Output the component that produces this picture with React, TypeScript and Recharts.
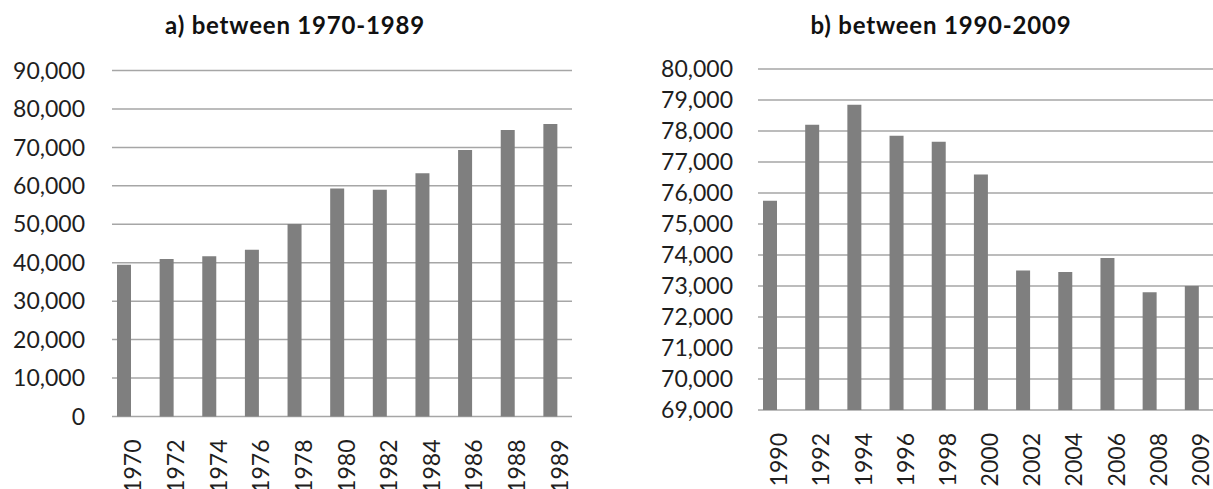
import { BarChart, Bar, XAxis, YAxis, CartesianGrid } from "recharts"

// panel a) 1970-1989
const yearsA = ["1970", "1972", "1974", "1976", "1978", "1980", "1982", "1984", "1986", "1988", "1989"]
const valuesA = [39500, 41000, 41700, 43400, 50100, 59300, 59000, 63300, 69300, 74500, 76100]
const ticksA = [0, 10000, 20000, 30000, 40000, 50000, 60000, 70000, 80000, 90000]

// panel b) 1990-2009
const yearsB = ["1990", "1992", "1994", "1996", "1998", "2000", "2002", "2004", "2006", "2008", "2009"]
const valuesB = [75750, 78200, 78850, 77850, 77650, 76600, 73500, 73450, 73900, 72800, 73000]
const ticksB = [69000, 70000, 71000, 72000, 73000, 74000, 75000, 76000, 77000, 78000, 79000, 80000]

const titleA = "a) between 1970-1989"
const titleB = "b) between 1990-2009"

const FONT = "Lato, 'Open Sans', sans-serif"
const TEXT = "#1e1e1e"
const BAR = "#7f7f7f"
const GRID = "#a6a6a6"

const dataA = yearsA.map((year, i) => ({ year, value: valuesA[i] }))
const dataB = yearsB.map((year, i) => ({ year, value: valuesB[i] }))

const fmt = (v: number) => v.toLocaleString("en-US")

function YearTick(props: any) {
  const { x, y, payload } = props
  const tx = x + 9
  return (
    <text
      x={tx}
      y={y}
      transform={`rotate(-90, ${tx}, ${y})`}
      textAnchor="end"
      dy="0.35em"
      fill={TEXT}
      fontSize={23}
      fontFamily={FONT}
    >
      {payload.value}
    </text>
  )
}

// grid lines start a little right of the plot edge, as in the original
function gridLine(props: any) {
  const { x1, x2, y1, y2, key } = props
  return <line key={key} x1={x1 + 9} x2={x2} y1={y1} y2={y2} stroke={GRID} strokeWidth={1.5} />
}

type PanelProps = {
  data: { year: string; value: number }[]
  ticks: number[]
  width: number
  yWidth: number
  top: number
  xHeight: number
  tickGap: number
  right: number
}

function Panel({ data, ticks, width, yWidth, top, xHeight, tickGap, right }: PanelProps) {
  return (
    <BarChart
      width={width}
      height={489}
      data={data}
      margin={{ top, right, bottom: 0, left: 0 }}
      barCategoryGap={0}
    >
      <CartesianGrid vertical={false} horizontal={gridLine} />
      <XAxis
        dataKey="year"
        interval={0}
        height={xHeight}
        axisLine={false}
        tickLine={false}
        tickSize={0}
        tickMargin={23}
        tick={<YearTick />}
      />
      <YAxis
        width={yWidth}
        domain={[ticks[0], ticks[ticks.length - 1]]}
        ticks={ticks}
        interval={0}
        axisLine={false}
        tickLine={false}
        tickSize={0}
        tickMargin={tickGap}
        tickFormatter={fmt}
        tick={{ fill: TEXT, fontSize: 23, fontFamily: FONT }}
      />
      <Bar dataKey="value" fill={BAR} barSize={14} isAnimationActive={false} />
    </BarChart>
  )
}

export default function App() {
  return (
    <div style={{ position: "absolute", left: 0, top: 0, width: 1213, height: 489, background: "#fff", overflow: "hidden" }}>
      <div style={{ position: "absolute", left: 0, top: 0 }}>
        <Panel data={dataA} ticks={ticksA} width={600} yWidth={103} top={70.5} xHeight={72.5} tickGap={18} right={28} />
      </div>
      <div style={{ position: "absolute", left: 610, top: 0 }}>
        <Panel data={dataB} ticks={ticksB} width={603} yWidth={139} top={69} xHeight={79} tickGap={16} right={0} />
      </div>
      <svg width={1213} height={60} style={{ position: "absolute", left: 0, top: 0, pointerEvents: "none" }}>
        <text x={295} y={34} textAnchor="middle" fontFamily={FONT} fontWeight="bold" fontSize={24} letterSpacing={0.8} fill="#111">
          {titleA}
        </text>
        <text x={941} y={34} textAnchor="middle" fontFamily={FONT} fontWeight="bold" fontSize={24} letterSpacing={0.8} fill="#111">
          {titleB}
        </text>
      </svg>
    </div>
  )
}
